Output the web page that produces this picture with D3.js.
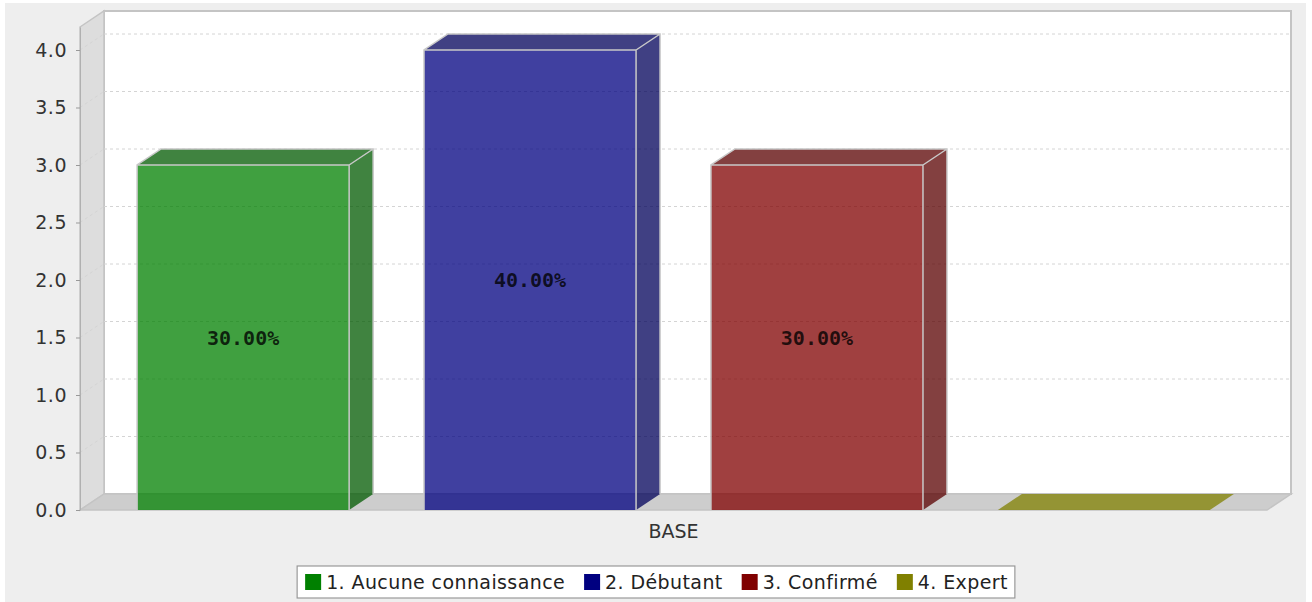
<!DOCTYPE html>
<html>
<head>
<meta charset="utf-8">
<script src="https://cdn.jsdelivr.net/npm/d3@7"></script>
<style>
  body { margin: 0; background: #fff; }
  svg { display: block; }
  text { font-family: "DejaVu Sans", sans-serif; fill: #333; }
</style>
</head>
<body>
<script>
var categories = ['BASE'];
var series = ['1. Aucune connaissance', '2. Débutant', '3. Confirmé', '4. Expert'];
var values = [3, 4, 3, 0];
var seriesColors = ['#008000', '#000080', '#800000', '#808000'];
var yTicks = [0, 0.5, 1.0, 1.5, 2.0, 2.5, 3.0, 3.5, 4.0];

var W = 1312, H = 602;
var dx = 24, dy = -16; // 3d depth
var plotLeft = 80, plotRight = 1267, plotTop = 27, plotBase = 510;

var svg = d3.select('body').append('svg').attr('width', W).attr('height', H);

svg.append('rect').attr('x', 5).attr('y', 3).attr('width', 1301).attr('height', 599).attr('fill', '#eeeeee');

var y = d3.scaleLinear().domain([0, 4.2]).range([plotBase, plotTop]);
var x = d3.scaleBand().domain(series).range([plotLeft, plotRight]).paddingInner(0.261).paddingOuter(0.199);
var color = d3.scaleOrdinal().domain(series).range(seriesColors);
var total = d3.sum(values);

// back wall
svg.append('rect')
  .attr('x', plotLeft + dx).attr('y', plotTop + dy)
  .attr('width', plotRight - plotLeft).attr('height', plotBase - plotTop)
  .attr('fill', '#fff').attr('stroke', '#c4c4c4').attr('stroke-width', 2);

// left wall
svg.append('polygon')
  .attr('points', [[plotLeft, plotTop], [plotLeft + dx, plotTop + dy], [plotLeft + dx, plotBase + dy], [plotLeft, plotBase]].join(' '))
  .attr('fill', '#dddddd').attr('stroke', '#c4c4c4').attr('stroke-width', 1.5);

// floor
svg.append('polygon')
  .attr('points', [[plotLeft, plotBase], [plotLeft + dx, plotBase + dy], [plotRight + dx, plotBase + dy], [plotRight, plotBase]].join(' '))
  .attr('fill', '#cdcdcd').attr('stroke', '#c4c4c4').attr('stroke-width', 1.5);

// gridlines
var grid = svg.append('g').attr('stroke', '#d4d4d4').attr('stroke-width', 1).attr('stroke-dasharray', '3,3').attr('fill', 'none');
yTicks.filter(function (d) { return d > 0; }).forEach(function (d) {
  grid.append('line').attr('x1', plotLeft + dx).attr('x2', plotRight + dx)
    .attr('y1', y(d) + dy).attr('y2', y(d) + dy);
  grid.append('line').attr('x1', plotLeft).attr('x2', plotLeft + dx)
    .attr('y1', y(d)).attr('y2', y(d) + dy);
});

// bars
var bars = svg.selectAll('g.bar').data(series.map(function (s, i) { return { name: s, value: values[i] }; }))
  .enter().append('g').attr('class', 'bar');

function darker(c) {
  var r = d3.rgb(c);
  return d3.rgb(r.r * 0.7, r.g * 0.7, r.b * 0.7).toString();
}

bars.each(function (d) {
  var g = d3.select(this);
  var x0 = x(d.name), w = x.bandwidth(), yt = y(d.value);
  var c = color(d.name);
  if (d.value > 0) {
    g.append('rect').attr('x', x0).attr('y', yt).attr('width', w).attr('height', plotBase - yt)
      .attr('fill', c).attr('fill-opacity', 0.75);
    g.append('polygon')
      .attr('points', [[x0 + w, yt], [x0 + w + dx, yt + dy], [x0 + w + dx, plotBase + dy], [x0 + w, plotBase]].join(' '))
      .attr('fill', darker(c)).attr('fill-opacity', 0.75);
    g.append('polygon')
      .attr('points', [[x0, yt], [x0 + dx, yt + dy], [x0 + w + dx, yt + dy], [x0 + w, yt]].join(' '))
      .attr('fill', darker(c)).attr('fill-opacity', 0.75);
    // outlines
    g.append('path')
      .attr('d', 'M' + x0 + ',' + plotBase + 'V' + yt + 'L' + (x0 + dx) + ',' + (yt + dy) +
        'H' + (x0 + w + dx) + 'V' + (plotBase + dy) +
        'M' + (x0 + w) + ',' + plotBase + 'V' + yt + 'H' + x0 +
        'M' + (x0 + w) + ',' + yt + 'L' + (x0 + w + dx) + ',' + (yt + dy))
      .attr('fill', 'none').attr('stroke', '#c8c8c8').attr('stroke-width', 1.5);
    g.append('text')
      .attr('x', x0 + w / 2).attr('y', (yt + plotBase) / 2)
      .attr('text-anchor', 'middle').attr('dominant-baseline', 'central')
      .style('font-family', '"DejaVu Sans Mono", monospace').style('font-weight', 'bold')
      .style('font-size', '20px').style('fill', 'rgba(0,0,0,0.78)')
      .text(d3.format('.2f')(d.value / total * 100) + '%');
  } else {
    g.append('polygon')
      .attr('points', [[x0, plotBase], [x0 + dx, plotBase + dy], [x0 + w + dx, plotBase + dy], [x0 + w, plotBase]].join(' '))
      .attr('fill', c).attr('fill-opacity', 0.75);
  }
});

// y axis
var yAxis = svg.append('g').attr('transform', 'translate(' + plotLeft + ',0)')
  .call(d3.axisLeft(y).tickValues(yTicks).tickFormat(d3.format('.1f')).tickSize(4).tickPadding(9).tickSizeOuter(0));
yAxis.select('.domain').attr('stroke', '#b0b0b0');
yAxis.selectAll('.tick line').attr('stroke', '#999');
yAxis.selectAll('.tick text').style('font-family', '"DejaVu Sans", sans-serif').style('font-size', '19px')
  .style('letter-spacing', '0.5px').style('fill', '#333');

// category axis
var cx = d3.scaleBand().domain(categories).range([plotLeft, plotRight]);
svg.append('g').selectAll('text').data(categories).enter().append('text')
  .attr('x', function (d) { return cx(d) + cx.bandwidth() / 2; })
  .attr('y', 538).attr('text-anchor', 'middle').style('font-size', '19px')
  .text(function (d) { return d; });

// legend
var legend = svg.append('g');
var box = legend.append('rect').attr('fill', '#fff').attr('stroke', '#999').attr('stroke-width', 1.2);
var lx = 0;
series.forEach(function (s) {
  legend.append('rect').attr('x', lx).attr('y', 574).attr('width', 16).attr('height', 16).attr('fill', color(s));
  var t = legend.append('text').attr('x', lx + 21).attr('y', 589).style('font-size', '19px')
    .style('letter-spacing', '0.4px').style('fill', '#222').text(s);
  lx += 21 + t.node().getComputedTextLength() + 19;
});
var lw = lx - 19 + 15;
box.attr('x', -8).attr('y', 566).attr('width', lw).attr('height', 32);
legend.attr('transform', 'translate(' + (W / 2 - lw / 2 + 8) + ',0)');
</script>
</body>
</html>
